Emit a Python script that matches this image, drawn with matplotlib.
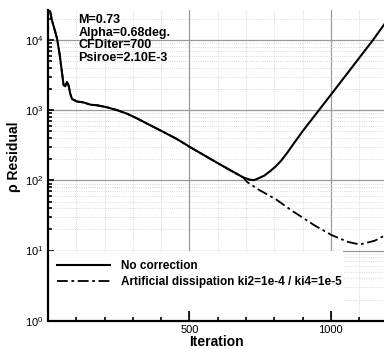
import matplotlib
matplotlib.use('Agg')
import matplotlib.pyplot as plt
from matplotlib.patches import Rectangle
from matplotlib.ticker import LogLocator, MultipleLocator, NullFormatter

plt.rcParams['font.family'] = ['Liberation Sans', 'DejaVu Sans']
plt.rcParams['mathtext.default'] = 'regular'

# residual history, common part
it_base = [0, 8, 14, 26, 32, 41, 50, 55, 61, 67, 73, 79, 85, 103, 126, 150, 174,
           209, 245, 280, 316, 360, 408, 455, 500, 585, 644, 691]
res_base = [28200, 25100, 19050, 12900, 10470, 6310, 3310, 2290, 2190, 2510, 2240,
            1700, 1445, 1330, 1290, 1200, 1175, 1100, 1000, 890, 760, 615, 490,
            390, 302, 191, 140, 110]
# no correction
it_nocorr = [715, 729, 744, 765, 785, 805, 824, 845, 870, 902, 1003, 1149, 1192]
res_nocorr = [102, 101, 107, 117, 135, 158, 190, 245, 340, 513, 1718, 10000, 17400]
# artificial dissipation branch
it_diss = [703, 744, 806, 860, 942, 1003, 1060, 1102, 1155, 1193]
res_diss = [95.5, 74.1, 53.7, 37.6, 22.9, 16.6, 13.3, 12.2, 13.8, 16.6]

info = 'M=0.73\nAlpha=0.68deg.\nCFDiter=700\nPsiroe=2.10E-3'

fig = plt.figure(figsize=(3.84, 3.49), dpi=100)
ax = fig.add_axes([0.125, 0.081, 0.875, 0.890])

ax.plot(it_base + it_diss, res_base + res_diss, color='black', lw=1.3,
        linestyle=(0, (6, 2, 1.5, 2)),
        label='Artificial dissipation ki2=1e-4 / ki4=1e-5', zorder=3)
ax.plot(it_base + it_nocorr, res_base + res_nocorr, color='black', lw=1.5,
        label='No correction', zorder=4)

ax.set_yscale('log')
ax.set_xlim(0, 1188)
ax.set_ylim(1, 26700)

ax.xaxis.set_major_locator(MultipleLocator(500))
ax.xaxis.set_minor_locator(MultipleLocator(100))
ax.yaxis.set_major_locator(LogLocator(base=10, numticks=10))
ax.yaxis.set_minor_locator(LogLocator(base=10, subs=range(2, 10), numticks=10))
ax.yaxis.set_minor_formatter(NullFormatter())

ax.grid(True, which='major', color='#999999', lw=0.9, zorder=0)
ax.grid(True, which='minor', color='#cccccc', lw=0.6, linestyle=':', zorder=0)
ax.set_axisbelow(True)

ax.tick_params(which='both', direction='in', labelsize=8, width=1.2)
ax.tick_params(axis='y', which='major', length=4, pad=3)
ax.tick_params(axis='x', which='major', length=7, pad=3)
ax.tick_params(which='minor', length=3)
for s in ['top', 'right']:
    ax.spines[s].set_visible(False)
for s in ['left', 'bottom']:
    ax.spines[s].set_linewidth(1.6)

ax.set_xticks([500, 1000])
ax.set_xlabel('Iteration', fontsize=10, fontweight='bold', labelpad=0)
ax.set_ylabel('ρ Residual', fontsize=10, fontweight='bold')
ax.yaxis.set_label_coords(-0.08, 0.527)

ax.text(0.09, 0.987, info, transform=ax.transAxes, ha='left', va='top',
        fontsize=9, fontweight='bold', linespacing=1.05, zorder=5)

ax.add_patch(Rectangle((0.004, 0.031), 0.874, 0.193, transform=ax.transAxes,
                       facecolor='white', edgecolor='none', zorder=2))
h, l = ax.get_legend_handles_labels()
leg = ax.legend(h[::-1], l[::-1], loc='center left', bbox_to_anchor=(0.027, 0.151),
                frameon=False, prop={'weight': 'bold', 'size': 8.5},
                handlelength=4.5, handletextpad=0.9, labelspacing=0.35,
                borderpad=0, borderaxespad=0)
leg.set_zorder(6)

fig.savefig('out.png', dpi=100)
